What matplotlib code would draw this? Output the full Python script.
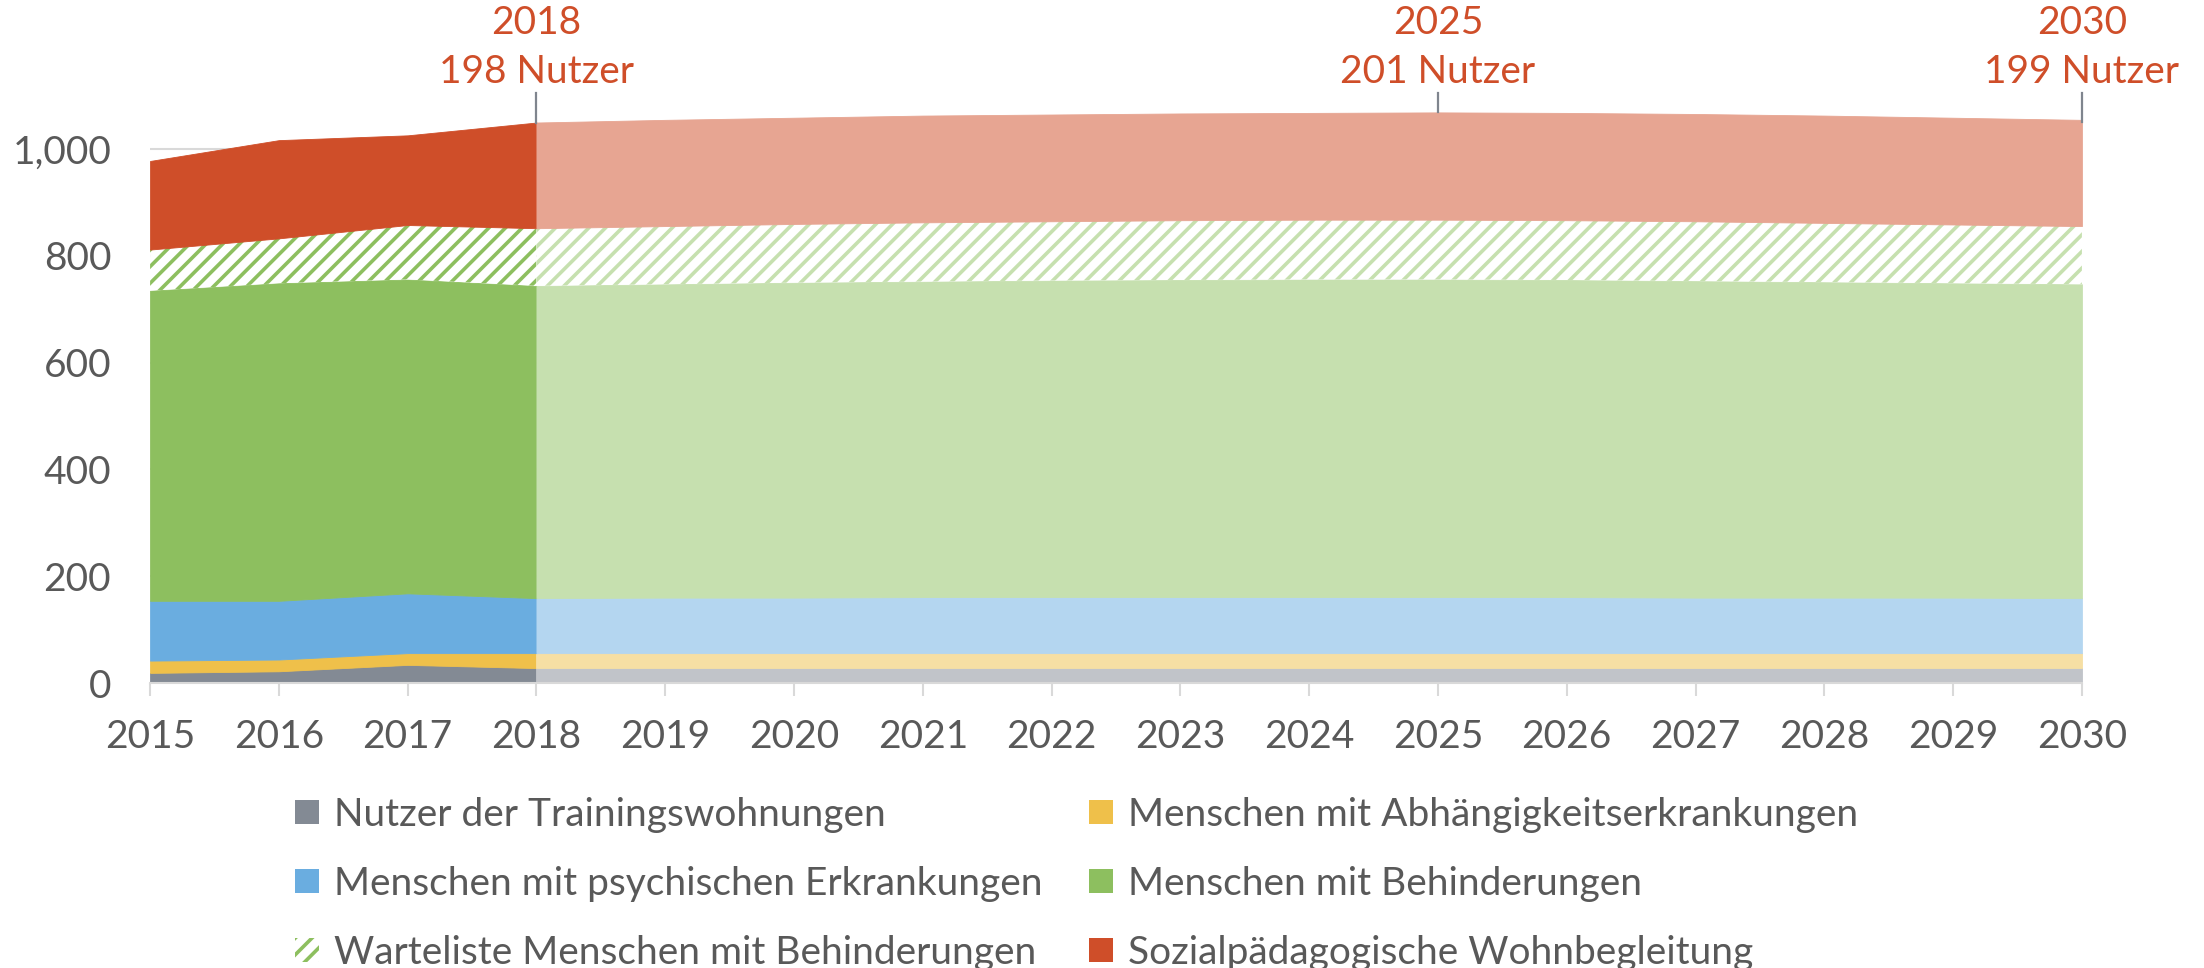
import matplotlib
matplotlib.use("Agg")
import matplotlib.pyplot as plt
import numpy as np
from matplotlib.patches import Patch

plt.rcParams["font.family"] = ["Lato", "DejaVu Sans"]
plt.rcParams["hatch.linewidth"] = 2.6

years = list(range(2015, 2031))
training = [19, 22, 34, 28] + [28] * 12
abhaengig = [23, 22, 22, 28] + [28] * 12
psychisch = [112, 110, 112, 103, 104, 104, 105, 105, 105, 105, 105, 105, 104, 104, 104, 103]
behinderung = [581, 595, 588, 585, 587, 590, 591, 593, 594, 595, 595, 594, 593, 591, 589, 588]
warteliste = [77, 84, 102, 108, 109, 110, 111, 111, 112, 112, 112, 112, 112, 111, 110, 109]
sozial = [166, 184, 168, 198, 199, 199, 200, 200, 200, 200, 201, 201, 201, 201, 200, 199]

labels = ["Nutzer der Trainingswohnungen", "Menschen mit Abhängigkeitserkrankungen",
          "Menschen mit psychischen Erkrankungen", "Menschen mit Behinderungen",
          "Warteliste Menschen mit Behinderungen", "Sozialpädagogische Wohnbegleitung"]
ann_years = [2018, 2025, 2030]
last_actual = 2018

colors = ["#838A94", "#EFC04A", "#6AADE0", "#8DBF5F", "#8DBF5F", "#CF4E29"]
light = ["#C1C4C9", "#F6DFA4", "#B4D6F0", "#C6E0AF", "#C6E0AF", "#E7A592"]
hatched = [False, False, False, False, True, False]

series = [training, abhaengig, psychisch, behinderung, warteliste, sozial]
x = np.array(years)
cum = np.cumsum(np.array(series), axis=0)
base = np.vstack([np.zeros(len(years)), cum[:-1]])

fig = plt.figure(figsize=(22.04, 9.68), dpi=100)
ax = fig.add_axes([0.0681, 0.2944, 0.8765, 0.6066])

hist = x <= last_actual
fc = x >= last_actual
for i in range(len(series)):
    for mask, col in ((hist, colors[i]), (fc, light[i])):
        if hatched[i]:
            ax.fill_between(x[mask], base[i][mask], cum[i][mask], facecolor="white",
                            edgecolor=col, hatch="//", linewidth=0, zorder=2)
        else:
            ax.fill_between(x[mask], base[i][mask], cum[i][mask], facecolor=col,
                            edgecolor=col, linewidth=0.6, zorder=2)

ax.set_xlim(2015, 2030)
ax.set_ylim(0, 1100)
ax.set_yticks([0, 200, 400, 600, 800, 1000])
ax.set_yticklabels(["0", "200", "400", "600", "800", "1,000"])
ax.set_xticks(years)
ax.set_xticklabels([str(y) for y in years])
ax.grid(axis="y", color="#D9D9D9", linewidth=1.5, zorder=0)
ax.set_axisbelow(True)
for s in ["top", "right", "left"]:
    ax.spines[s].set_visible(False)
ax.spines["bottom"].set_color("#D9D9D9")
ax.spines["bottom"].set_linewidth(1.5)
ax.spines["bottom"].set_zorder(3)
ax.tick_params(axis="x", direction="out", length=9, width=1.5, color="#D9D9D9",
               labelsize=28, labelcolor="#595959", pad=17)
ax.tick_params(axis="y", length=0, labelsize=28, labelcolor="#595959", pad=28)

red = "#CF4E29"
for yr in ann_years:
    i = years.index(yr)
    top = cum[-1][i]
    ax.plot([yr, yr], [top - (4 if yr == 2030 else 0), 1105], color="#7F858E",
            linewidth=1.6, clip_on=False, zorder=4)
    ax.text(yr, 1145, f"{sozial[i]} Nutzer", ha="center", va="center",
            fontsize=28, color=red, clip_on=False)
    ax.text(yr, 1236, str(yr), ha="center", va="center",
            fontsize=28, color=red, clip_on=False)

handles = []
for i in range(len(series)):
    if hatched[i]:
        handles.append(Patch(facecolor="white", edgecolor=colors[i], hatch="//",
                             linewidth=0, label=labels[i]))
    else:
        handles.append(Patch(facecolor=colors[i], edgecolor=colors[i], linewidth=0,
                             label=labels[i]))
order = [0, 2, 4, 1, 3, 5]
leg = fig.legend([handles[k] for k in order], [labels[k] for k in order],
                 loc="upper left", bbox_to_anchor=(0.134, 0.177), ncol=2,
                 frameon=False, fontsize=28, handlelength=0.6, handleheight=0.6,
                 handletextpad=0.4, columnspacing=1.2, labelspacing=0.85,
                 borderpad=0, borderaxespad=0)
for t in leg.get_texts():
    t.set_color("#595959")

fig.savefig("out.png", dpi=100)
